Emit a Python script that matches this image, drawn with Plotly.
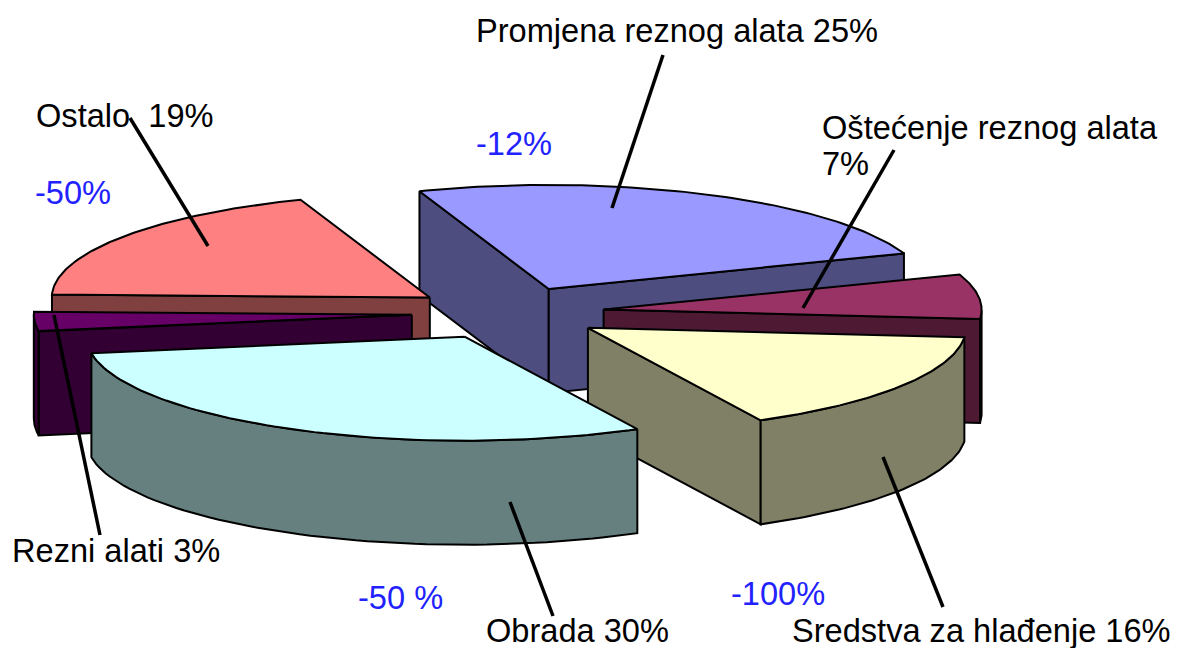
import numpy as np
import plotly.graph_objects as go

# shares in chart order, clockwise
categories = ['Promjena reznog alata', 'Oštećenje reznog alata', 'Sredstva za hlađenje',
              'Obrada', 'Rezni alati', 'Ostalo']
shares = [25, 7, 16, 30, 3, 19]
top_colors = ['#9999FF', '#993366', '#FFFFCC', '#CCFFFF', '#660066', '#FF8080']
side_colors = ['#4D4D80', '#4D1933', '#808066', '#668080', '#330033', '#804040']
draw_order = [0, 1, 5, 4, 2, 3]

# labels: text, x, y, colour
label_texts = ['Promjena reznog alata 25%', 'Oštećenje reznog alata', '7%', 'Ostalo  19%',
               'Rezni alati 3%', 'Obrada 30%', 'Sredstva za hlađenje 16%',
               '-12%', '-50%', '-50 %', '-100%']
label_x = [474, 820, 820, 34, 10, 484, 790, 474, 33, 356, 729]
label_y = [30, 127, 163, 115, 550, 630, 630, 143, 192, 597, 593]
label_colors = ['black'] * 7 + ['#2222FF'] * 4

leaders = [(663, 55, 612, 208), (894, 150, 803, 308), (130, 118, 208, 246),
           (54, 315, 100, 535), (510, 502, 553, 616), (883, 457, 943, 607)]

# pie projection, in page pixels
CX, CY = 508, 313
RX, RY = 378, 104
DEPTH = 104
EXPLODE = 0.255
START = -20


def rim(t, ox, oy):
    return ox + RX * np.sin(np.radians(t)), oy - RY * np.cos(np.radians(t))


def add_poly(fig, xs, ys, color):
    fig.add_trace(go.Scatter(x=list(xs) + [xs[0]], y=list(ys) + [ys[0]], mode='lines',
                             fill='toself', fillcolor=color,
                             line=dict(color='black', width=2),
                             hoverinfo='skip', showlegend=False))


fig = go.Figure()

edges = START + np.cumsum([0] + shares) * 3.6
for i in draw_order:
    t0, t1 = edges[i], edges[i + 1]
    mid = (t0 + t1) / 2
    ox, oy = rim(mid, CX, CY)
    ox, oy = CX + (ox - CX) * EXPLODE, CY + (oy - CY) * EXPLODE

    # cut faces, only the ones turned towards the viewer
    for t, visible in ((t0, np.sin(np.radians(t0)) < 0), (t1, np.sin(np.radians(t1)) > 0)):
        if visible:
            rx, ry = rim(t, ox, oy)
            add_poly(fig, [ox, rx, rx, ox], [oy, ry, ry + DEPTH, oy + DEPTH], side_colors[i])

    # outer wall, front half of the rim only
    a0, a1 = max(t0, 90), min(t1, 270)
    if a1 > a0:
        ts = np.linspace(a0, a1, 60)
        wx, wy = rim(ts, ox, oy)
        add_poly(fig, list(wx) + list(wx[::-1]), list(wy) + list(wy[::-1] + DEPTH), side_colors[i])

    # top
    ts = np.linspace(t0, t1, 80)
    tx, ty = rim(ts, ox, oy)
    add_poly(fig, [ox] + list(tx), [oy] + list(ty), top_colors[i])

for x0, y0, x1, y1 in leaders:
    fig.add_shape(type='line', x0=x0, y0=y0, x1=x1, y1=y1, xref='x', yref='y',
                  line=dict(color='black', width=3.5))

for text, x, y, color in zip(label_texts, label_x, label_y, label_colors):
    fig.add_annotation(x=x, y=y, text=text, showarrow=False, xanchor='left', yanchor='middle',
                       font=dict(family='Liberation Sans', size=32.6, color=color))

fig.update_layout(
    width=1177, height=648,
    margin=dict(l=0, r=0, t=0, b=0),
    paper_bgcolor='white',
    plot_bgcolor='white',
    showlegend=False,
    xaxis=dict(range=[0, 1177], visible=False, fixedrange=True),
    yaxis=dict(range=[648, 0], visible=False, fixedrange=True),
)

# page default body margin would push the figure off the window
fig.write_html("out.html", config=dict(displayModeBar=False),
               post_script="document.body.style.margin='0';document.body.style.overflow='hidden';")
